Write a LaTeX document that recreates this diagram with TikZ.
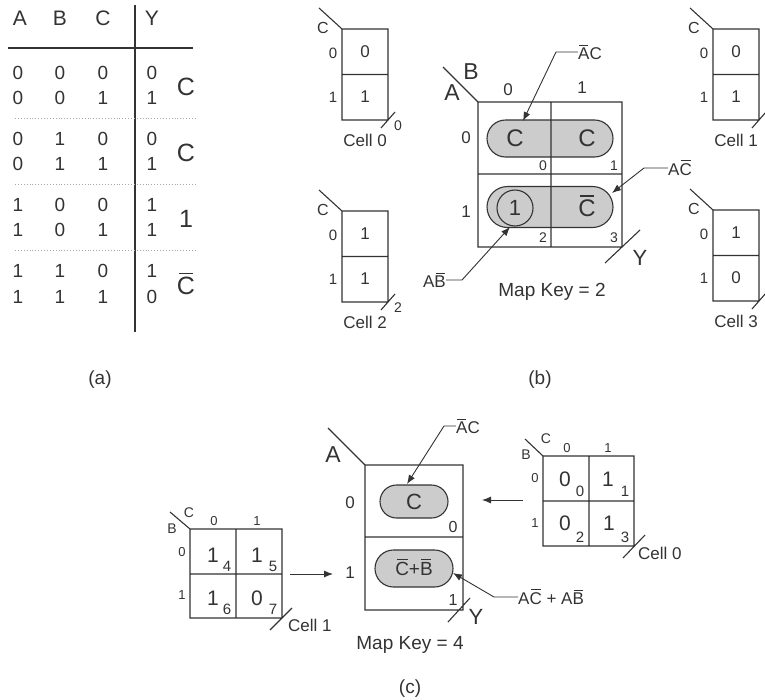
\documentclass[tikz,border=0pt]{standalone}
\usepackage{fontspec}
\setmainfont{Liberation Sans}
\usetikzlibrary{arrows.meta,shapes.misc}
\newcommand{\ob}[1]{\leavevmode\setbox0\hbox{#1}\rlap{\hbox to \wd0{\hss\rule[\dimexpr\ht0+0.12em\relax]{0.8\wd0}{0.06em}\hss}}\box0\relax}
\definecolor{ink}{HTML}{333333}
\tikzset{
  every node/.style={inner sep=0pt, text=ink},
  fs/.style={font=\fontsize{#1}{#1}\selectfont},
  ln/.style={line width=1.1pt, draw=ink},
  dotrule/.style={line width=0.9pt, draw=gray!70, dotted},
  pill/.style={draw=ink, line width=1.1pt, fill=gray!40, rounded rectangle},
  arr/.style={line width=0.9pt, draw=ink, -{Latex[length=9pt,width=7pt]}},
}
% one-column cell map: prefix, x, y, v0, v1, slash number, label
\newcommand{\cellone}[7]{%
\begin{scope}[shift={(#2,#3)}]
  \draw[ln] (0,0) rectangle (46,91) (0,45.5)--(46,45.5) (0,0)--(-23,-21) (39,99)--(53,83);
  \node[fs=16] (#1c) at (-19,-1) {C};
  \node[fs=15] (#1r0) at (-9,24) {0};
  \node[fs=15] (#1r1) at (-9,68) {1};
  \node[fs=17] (#1v0) at (23,23) {#4};
  \node[fs=17] (#1v1) at (23,68) {#5};
  \node[fs=14] (#1n) at (56,97) {#6};
  \node[fs=17] (#1l) at (23,111) {#7};
\end{scope}}
\begin{document}
\begin{tikzpicture}[x=1pt,y=-1pt]
\useasboundingbox (0,0) rectangle (765,699);
% ---------- (a) truth table ----------
\foreach \x/\t [count=\i] in {20/A,60/B,103/C,152/Y} \node[fs=21] (h\i) at (\x,18) {\t};
\draw[ln] (8,48)--(193,48) (135,5)--(135,332);
\foreach \y/\a/\b/\c/\v [count=\i] in {73/0/0/0/0,98/0/0/1/1,139/0/1/0/0,164/0/1/1/1,205/1/0/0/1,230/1/0/1/1,271/1/1/0/1,297/1/1/1/0}{
  \node[fs=19] (ra\i) at (18,\y) {\a};
  \node[fs=19] (rb\i) at (60,\y) {\b};
  \node[fs=19] (rc\i) at (103,\y) {\c};
  \node[fs=19] (ry\i) at (152,\y) {\v};
}
\foreach \y in {118,184,250} \draw[dotrule] (15,\y)--(195,\y);
\node[fs=25] (g1) at (186,87) {C};
\node[fs=25] (g2) at (186,153) {C};
\node[fs=25] (g3) at (186,219) {1};
\node[fs=25] (g4) at (186,284) {\ob{C}};
\node[fs=19] (capa) at (100,380) {(a)};
% ---------- (b) ----------
\cellone{ca}{342}{29}{0}{1}{0}{Cell 0}
\cellone{cb}{342}{211}{1}{1}{2}{Cell 2}
\cellone{cc}{713}{29}{0}{1}{}{Cell 1}
\cellone{cd}{713}{210}{1}{0}{}{Cell 3}
\node[pill, minimum width=126pt, minimum height=37pt] (pb1) at (550,138.5) {};
\node[pill, minimum width=126pt, minimum height=41pt] (pb2) at (550,207) {};
\draw[ln] (515,208) circle (18);
\draw[ln] (478,102) rectangle (622,247) (551,102)--(551,247) (478,174)--(622,174) (478,102)--(443,67) (605,263)--(640,230);
\node[fs=23] (mbA) at (452,93) {A};
\node[fs=23] (mbB) at (471,72) {B};
\node[fs=17] (mbc0) at (508,90) {0};
\node[fs=17] (mbc1) at (582,88) {1};
\node[fs=17] (mbr0) at (466,138) {0};
\node[fs=17] (mbr1) at (466,212) {1};
\node[fs=24] (mbv0) at (515,138) {C};
\node[fs=24] (mbv1) at (587,138) {C};
\node[fs=22] (mbv2) at (515,208) {1};
\node[fs=24] (mbv3) at (587,206) {\ob{C}};
\node[fs=14] (mbn0) at (543,166) {0};
\node[fs=14] (mbn1) at (614,166) {1};
\node[fs=14] (mbn2) at (543,238) {2};
\node[fs=14] (mbn3) at (614,238) {3};
\node[fs=22] (mbY) at (640,258) {Y};
\node[fs=19] (mbkey) at (552,292) {Map Key = 2};
\node[fs=17, anchor=west] (lb1) at (578,52) {\ob{A}C};
\node[fs=17, anchor=east] (lb2) at (446,280) {A\ob{B}};
\node[fs=17, anchor=west] (lb3) at (668,168) {A\ob{C}};
\coordinate (tb1) at (523,121);
\coordinate (tb2) at (510,227);
\coordinate (tb3) at (612,193);
\draw[arr] (lb1.west) -- ++(-22,0) -- (tb1);
\draw[arr] (lb2.east) -- ++(16,0) -- (tb2);
\draw[arr] (lb3.west) -- ++(-24,0) -- (tb3);
\node[fs=19] (capb) at (540,380) {(b)};
% ---------- (c) ----------
\node[pill, minimum width=68pt, minimum height=33pt] (pc1) at (414,501.5) {};
\node[pill, minimum width=78pt, minimum height=37pt] (pc2) at (414,568.5) {};
\draw[ln] (365,465) rectangle (463,610) (365,537)--(463,537) (365,465)--(328,428) (448,622)--(470,598);
\node[fs=23] (mcA) at (333,455) {A};
\node[fs=17] (mcr0) at (350,503) {0};
\node[fs=17] (mcr1) at (350,573) {1};
\node[fs=22] (mcv0) at (414,502) {C};
\node[fs=19] (mcv1) at (414,567) {\ob{C}+\ob{B}};
\node[fs=16] (mcn0) at (453,527) {0};
\node[fs=16] (mcn1) at (453,600) {1};
\node[fs=22] (mcY) at (476,617) {Y};
\node[fs=19] (mckey) at (410,645) {Map Key = 4};
\node[fs=17, anchor=west] (lc1) at (456,426) {\ob{A}C};
\node[fs=17, anchor=west] (lc2) at (518,597) {A\ob{C} + A\ob{B}};
\coordinate (tc1) at (407,484);
\coordinate (tc2) at (453,573);
\draw[arr] (lc1.west) -- ++(-12,0) -- (tc1);
\draw[arr] (lc2.west) -- ++(-24,0) -- (tc2);
% right map (Cell 0)
\begin{scope}[shift={(543,456)}]
  \draw[ln] (0,0) rectangle (91,90) (46,0)--(46,90) (0,45)--(91,45) (0,0)--(-18,-17) (80,102)--(102,79);
  \node[fs=14] (rmC) at (3,-17) {C};
  \node[fs=14] (rmB) at (-17,-1) {B};
  \node[fs=13] (rmc0) at (24,-8) {0};
  \node[fs=13] (rmc1) at (65,-8) {1};
  \node[fs=13] (rmr0) at (-8,22) {0};
  \node[fs=13] (rmr1) at (-8,67) {1};
  \node[fs=21] (rmv0) at (22,23) {0};
  \node[fs=21] (rmv1) at (65,23) {1};
  \node[fs=21] (rmv2) at (22,67) {0};
  \node[fs=21] (rmv3) at (66,67) {1};
  \node[fs=15] (rmn0) at (37,35) {0};
  \node[fs=15] (rmn1) at (82,35) {1};
  \node[fs=15] (rmn2) at (37,81) {2};
  \node[fs=15] (rmn3) at (82,81) {3};
  \node[fs=17, anchor=west] (rml) at (95,97) {Cell 0};
\end{scope}
% left map (Cell 1)
\begin{scope}[shift={(190,529)}]
  \draw[ln] (0,0) rectangle (92,89) (46,0)--(46,89) (0,45)--(92,45) (0,0)--(-20,-17) (80,101)--(102,79);
  \node[fs=14] (lmC) at (-1,-16) {C};
  \node[fs=14] (lmB) at (-18,0) {B};
  \node[fs=13] (lmc0) at (24,-8) {0};
  \node[fs=13] (lmc1) at (67,-8) {1};
  \node[fs=13] (lmr0) at (-8,23) {0};
  \node[fs=13] (lmr1) at (-8,66) {1};
  \node[fs=21] (lmv0) at (23,26) {1};
  \node[fs=21] (lmv1) at (67,26) {1};
  \node[fs=21] (lmv2) at (23,69) {1};
  \node[fs=21] (lmv3) at (67,69) {0};
  \node[fs=15] (lmn0) at (37,37) {4};
  \node[fs=15] (lmn1) at (83,37) {5};
  \node[fs=15] (lmn2) at (37,80) {6};
  \node[fs=15] (lmn3) at (83,80) {7};
  \node[fs=17, anchor=west] (lml) at (98,96) {Cell 1};
\end{scope}
\coordinate (ac1) at (290,574);
\coordinate (ac2) at (333,574);
\coordinate (ar1) at (523,500);
\coordinate (ar2) at (482,500);
\draw[arr] (ac1) -- (ac2);
\draw[arr] (ar1) -- (ar2);
\node[fs=19] (capc) at (410,689) {(c)};
\end{tikzpicture}
\end{document}
